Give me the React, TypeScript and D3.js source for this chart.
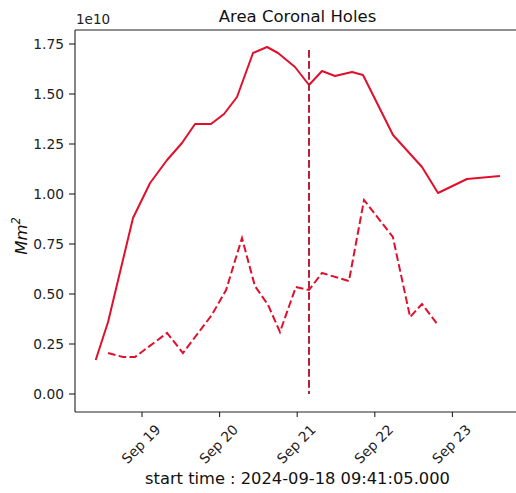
import React, { useEffect, useRef } from 'react';
import * as d3 from 'd3';

// area (1e10 Mm^2)
const solidTimes = [
  '2024-09-18T09:41', '2024-09-18T13:30', '2024-09-18T21:13', '2024-09-19T02:30',
  '2024-09-19T07:45', '2024-09-19T12:22', '2024-09-19T16:24', '2024-09-19T21:20',
  '2024-09-20T01:22', '2024-09-20T05:23', '2024-09-20T10:20', '2024-09-20T14:40',
  '2024-09-20T18:04', '2024-09-20T23:19', '2024-09-21T03:39', '2024-09-21T07:40',
  '2024-09-21T11:41', '2024-09-21T16:57', '2024-09-21T20:21', '2024-09-22T05:38',
  '2024-09-22T14:36', '2024-09-22T19:33', '2024-09-23T04:31', '2024-09-23T14:43',
];
const solidValues = [
  0.17, 0.36, 0.88, 1.055, 1.17, 1.255, 1.35, 1.35, 1.4, 1.485, 1.705, 1.735,
  1.705, 1.635, 1.545, 1.615, 1.59, 1.61, 1.595, 1.295, 1.135, 1.005, 1.075, 1.09,
];

const dashedTimes = [
  '2024-09-18T13:30', '2024-09-18T18:07', '2024-09-18T21:50', '2024-09-19T07:45',
  '2024-09-19T12:40', '2024-09-19T21:35', '2024-09-20T02:00', '2024-09-20T06:55',
  '2024-09-20T10:55', '2024-09-20T15:00', '2024-09-20T18:40', '2024-09-20T23:35',
  '2024-09-21T03:39', '2024-09-21T07:40', '2024-09-21T16:00', '2024-09-21T20:40',
  '2024-09-22T05:35', '2024-09-22T10:55', '2024-09-22T14:36', '2024-09-22T19:33',
];
const dashedValues = [
  0.205, 0.185, 0.185, 0.305, 0.205, 0.395, 0.52, 0.78, 0.54, 0.445,
  0.31, 0.535, 0.52, 0.605, 0.565, 0.97, 0.785, 0.385, 0.45, 0.345,
];

const markerTime = '2024-09-21T03:39';
const markerTop = 1.72;

const yTicks = [0, 0.25, 0.5, 0.75, 1.0, 1.25, 1.5, 1.75];
const xTicks = ['2024-09-19', '2024-09-20', '2024-09-21', '2024-09-22', '2024-09-23'];

const parse = d3.timeParse('%Y-%m-%dT%H:%M');
const parseDay = d3.timeParse('%Y-%m-%d');

const App = () => {
  const svgRef = useRef(null);

  useEffect(() => {
    const W = 516, H = 493;
    const left = 75, top = 30, right = 520, bottom = 412;
    const font = 'DejaVu Sans, sans-serif';

    const svg = d3.select(svgRef.current);
    svg.selectAll('*').remove();

    const x = d3.scaleTime()
      .domain([parseDay(xTicks[0]), parseDay(xTicks[4])])
      .range([142, 452.4]);
    const y = d3.scaleLinear().domain([-0.09, 1.82]).range([bottom, top]);

    const line = d3.line<[Date, number]>()
      .x(d => x(d[0]))
      .y(d => y(d[1]));

    const solid = solidTimes.map((t, i) => [parse(t), solidValues[i]] as [Date, number]);
    const dashed = dashedTimes.map((t, i) => [parse(t), dashedValues[i]] as [Date, number]);

    svg.append('path')
      .attr('d', line(solid))
      .attr('fill', 'none')
      .attr('stroke', '#e0102c')
      .attr('stroke-width', 2)
      .attr('stroke-linejoin', 'round');

    svg.append('path')
      .attr('d', line(dashed))
      .attr('fill', 'none')
      .attr('stroke', '#e0102c')
      .attr('stroke-width', 2)
      .attr('stroke-dasharray', '7.7 3.3');

    const mx = x(parse(markerTime));
    svg.append('line')
      .attr('x1', mx).attr('x2', mx)
      .attr('y1', y(markerTop)).attr('y2', y(0))
      .attr('stroke', '#b8203a')
      .attr('stroke-width', 2)
      .attr('stroke-dasharray', '7.7 3.3');

    // spines: only top, left and bottom lie inside the picture
    const axisColor = '#222';
    const edge = Math.min(right, W);
    svg.append('line')
      .attr('x1', left).attr('x2', edge).attr('y1', top).attr('y2', top)
      .attr('stroke', axisColor).attr('stroke-width', 1.1);
    svg.append('line')
      .attr('x1', left).attr('x2', edge).attr('y1', bottom).attr('y2', bottom)
      .attr('stroke', axisColor).attr('stroke-width', 1.1);
    svg.append('line')
      .attr('x1', left).attr('x2', left).attr('y1', top).attr('y2', bottom)
      .attr('stroke', axisColor).attr('stroke-width', 1.1);

    // y ticks
    const yg = svg.append('g');
    yTicks.forEach(v => {
      yg.append('line')
        .attr('x1', left - 6).attr('x2', left)
        .attr('y1', y(v)).attr('y2', y(v))
        .attr('stroke', axisColor).attr('stroke-width', 1.1);
      yg.append('text')
        .attr('x', left - 11)
        .attr('y', y(v))
        .attr('dy', '0.36em')
        .attr('text-anchor', 'end')
        .attr('font-family', font)
        .attr('font-size', 13.8)
        .attr('fill', '#222')
        .text(v.toFixed(2));
    });

    // x ticks
    const xg = svg.append('g');
    xTicks.forEach(t => {
      const px = x(parseDay(t));
      xg.append('line')
        .attr('x1', px).attr('x2', px)
        .attr('y1', bottom).attr('y2', bottom + 5)
        .attr('stroke', axisColor).attr('stroke-width', 1.1);
      xg.append('text')
        .attr('transform', `translate(${px - 1},${bottom + 32}) rotate(-45)`)
        .attr('text-anchor', 'middle')
        .attr('dy', '0.36em')
        .attr('font-family', font)
        .attr('font-size', 13.8)
        .attr('fill', '#222')
        .text(d3.timeFormat('%b %d')(parseDay(t)));
    });

    svg.append('text')
      .attr('x', left + 1).attr('y', 24)
      .attr('font-family', font).attr('font-size', 13.5).attr('fill', '#222')
      .text('1e10');

    svg.append('text')
      .attr('x', (left + right) / 2).attr('y', 22)
      .attr('text-anchor', 'middle')
      .attr('font-family', font).attr('font-size', 16.5).attr('fill', '#111')
      .text('Area Coronal Holes');

    svg.append('text')
      .attr('x', (left + right) / 2).attr('y', 484)
      .attr('text-anchor', 'middle')
      .attr('font-family', font).attr('font-size', 16.3).attr('fill', '#111')
      .text('start time : 2024-09-18 09:41:05.000');

    const yl = svg.append('text')
      .attr('transform', `translate(27,236) rotate(-90)`)
      .attr('text-anchor', 'middle')
      .attr('font-family', font).attr('font-size', 16.5).attr('fill', '#111');
    yl.append('tspan').attr('font-style', 'italic').text('Mm');
    yl.append('tspan').attr('font-style', 'italic').attr('font-size', 11.5).attr('dy', -7).text('2');

    svg.attr('width', W).attr('height', H);
  }, []);

  return (
    <svg ref={svgRef} width={516} height={493}
      style={{ position: 'absolute', left: 0, top: 0, background: '#fff', display: 'block' }} />
  );
};

export default App;
